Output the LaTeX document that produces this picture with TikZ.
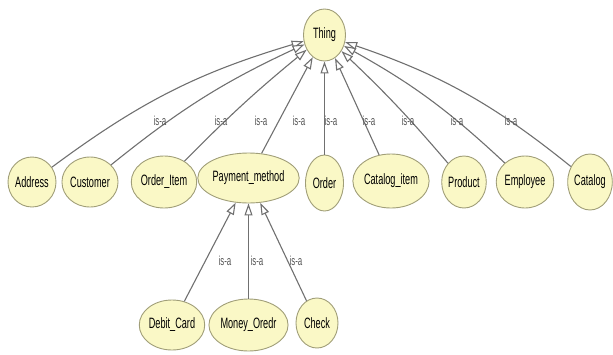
\documentclass[tikz,border=0pt]{standalone}
\usepackage{fontspec}
\setmainfont{Liberation Sans}[FakeStretch=0.61]
\usetikzlibrary{shapes.geometric,arrows.meta}
\definecolor{nodefill}{RGB}{250,248,198}
\definecolor{nodeline}{RGB}{160,158,120}
\definecolor{edgegray}{RGB}{112,112,112}
\definecolor{labelgray}{RGB}{85,85,85}
\begin{document}
\begin{tikzpicture}[x=1pt,y=-1pt,
  cls/.style={ellipse, draw=nodeline, fill=nodefill, line width=0.9pt,
    inner sep=0pt, font=\fontsize{15}{15}\selectfont},
  isa/.style={draw=edgegray, line width=1.1pt,
    -{Triangle[length=12pt,width=8pt,fill=white]}},
  lbl/.style={text=labelgray, font=\fontsize{13}{13}\selectfont, inner sep=0pt}]
\useasboundingbox (0,0) rectangle (613,354);

% root class
\node[cls, minimum width=42pt, minimum height=52pt] (thing) at (324.5,35) {Thing};

% first level subclasses
\node[cls, minimum width=48pt, minimum height=50pt] (address)  at (32,182)  {Address};
\node[cls, minimum width=50pt, minimum height=50pt] (customer) at (90,182)  {Customer};
\node[cls, minimum width=62pt, minimum height=52pt] (orderitem) at (164,182) {Order\_Item};
\node[cls, minimum width=88pt, minimum height=50pt] (payment)  at (248.5,178) {Payment\_method};
\node[cls, minimum width=38pt, minimum height=56pt] (order)    at (324.5,183) {Order};
\node[cls, minimum width=72pt, minimum height=54pt] (catitem)  at (391,181) {Catalog\_item};
\node[cls, minimum width=44pt, minimum height=52pt] (product)  at (464,182) {Product};
\node[cls, minimum width=56pt, minimum height=52pt] (employee) at (525,182) {Employee};
\node[cls, minimum width=44pt, minimum height=56pt] (catalog)  at (590,182) {Catalog};

% payment method subclasses
\node[cls, minimum width=60pt, minimum height=50pt] (debit) at (172,325) {Debit\_Card};
\node[cls, minimum width=62pt, minimum height=52pt] (money) at (248.5,325) {Money\_Oredr};
\node[cls, minimum width=42pt, minimum height=50pt] (check) at (317,323) {Check};

% is-a links to the root
\draw[isa] (address)   to[bend left=10] (thing);
\draw[isa] (customer)  to[bend left=7]  (thing);
\draw[isa] (orderitem) to[bend left=3]  (thing);
\draw[isa] (payment)   -- (thing);
\draw[isa] (order)     -- (thing);
\draw[isa] (catitem)   -- (thing);
\draw[isa] (product)   to[bend right=3] (thing);
\draw[isa] (employee)  to[bend right=7] (thing);
\draw[isa] (catalog)   to[bend right=10] (thing);

% is-a links to Payment_method
\draw[isa] (debit) -- (payment);
\draw[isa] (money) -- (payment);
\draw[isa] (check) -- (payment);

% link labels
\node[lbl] (l1) at (160,121) {is-a};
\node[lbl] (l2) at (221,121) {is-a};
\node[lbl] (l3) at (261,121) {is-a};
\node[lbl] (l4) at (299,121) {is-a};
\node[lbl] (l5) at (331,121) {is-a};
\node[lbl] (l6) at (369,121) {is-a};
\node[lbl] (l7) at (408,121) {is-a};
\node[lbl] (l8) at (457,121) {is-a};
\node[lbl] (l9) at (511,121) {is-a};
\node[lbl] (m1) at (225,261) {is-a};
\node[lbl] (m2) at (257,261) {is-a};
\node[lbl] (m3) at (296,261) {is-a};
\end{tikzpicture}
\end{document}
